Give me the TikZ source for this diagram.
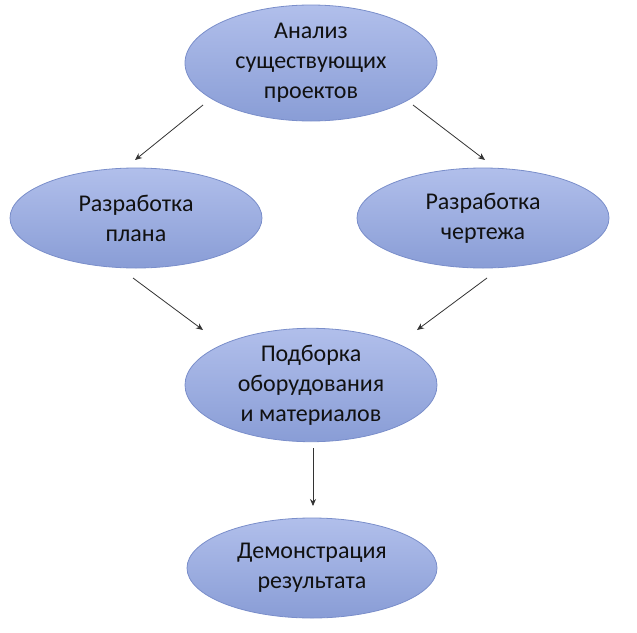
\documentclass[tikz,border=0pt]{standalone}
\usepackage{fontspec}
\setmainfont{Carlito}
\usetikzlibrary{shapes.geometric,arrows.meta}
\definecolor{elltop}{HTML}{B1BFEB}
\definecolor{ellbot}{HTML}{899DD6}
\definecolor{ellborder}{HTML}{7A8ECA}
\definecolor{txt}{HTML}{111111}
\definecolor{arr}{HTML}{333333}
\tikzset{
  stage/.style={ellipse, draw=ellborder, line width=0.8pt, top color=elltop, bottom color=ellbot,
    inner sep=0pt, align=center, text=txt, font=\fontsize{24}{30}\selectfont},
  link/.style={draw=arr, line width=0.8pt, -{Stealth[length=7pt,width=6pt]}}
}
\begin{document}
\begin{tikzpicture}[x=1pt,y=-1pt]
\useasboundingbox (0,0) rectangle (637,632);
\node[stage, minimum width=252pt, minimum height=116pt] (a) at (311,63) {Анализ\\существующих\\проектов};
\node[stage, minimum width=252pt, minimum height=100pt] (b) at (136,218) {Разработка\\плана};
\node[stage, minimum width=252pt, minimum height=100pt] (c) at (483,218) {Разработка\\чертежа};
\node[stage, minimum width=252pt, minimum height=110pt] (d) at (311,385) {Подборка\\оборудования\\и материалов};
\node[stage, minimum width=250pt, minimum height=100pt] (e) at (312,568) {Демонстрация\\результата};
\coordinate (a1) at (203,105); \coordinate (b0) at (135,160);
\coordinate (a2) at (413,105); \coordinate (c0) at (485,160);
\coordinate (b1) at (133,278); \coordinate (d1) at (203,330);
\coordinate (c1) at (487,278); \coordinate (d2) at (417,330);
\coordinate (d3) at (313,448); \coordinate (e0) at (313,506);
\draw[link] (a1) -- (b0);
\draw[link] (a2) -- (c0);
\draw[link] (b1) -- (d1);
\draw[link] (c1) -- (d2);
\draw[link] (d3) -- (e0);
\end{tikzpicture}
\end{document}
